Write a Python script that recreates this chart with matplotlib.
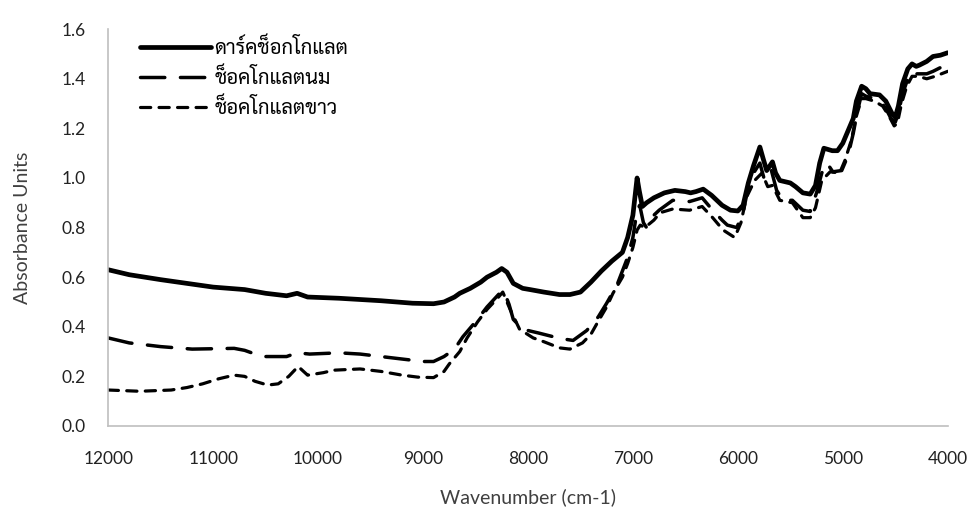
import matplotlib
matplotlib.use("Agg")
import matplotlib.pyplot as plt

# wavenumber (cm-1) / absorbance
wn_dark = [12000, 11800, 11500, 11000, 10700, 10500, 10300, 10200, 10100, 9800,
           9600, 9400, 9100, 8900, 8800, 8700, 8650, 8550, 8450, 8390,
           8300, 8250, 8200, 8140, 8050, 7980, 7850, 7700, 7600, 7500,
           7400, 7300, 7200, 7100, 7050, 7000, 6960, 6940, 6910, 6870,
           6800, 6700, 6600, 6500, 6450, 6400, 6330, 6250, 6150, 6070,
           6000, 5950, 5900, 5850, 5790, 5760, 5725, 5670, 5640, 5600,
           5500, 5450, 5380, 5310, 5260, 5220, 5180, 5100, 5050, 5000,
           4950, 4900, 4870, 4820, 4780, 4740, 4650, 4590, 4530, 4500,
           4470, 4430, 4380, 4340, 4300, 4270, 4200, 4140, 4070, 4000]
abs_dark = [0.63, 0.61, 0.59, 0.56, 0.55, 0.535, 0.525, 0.535, 0.52, 0.515,
            0.51, 0.505, 0.495, 0.493, 0.50, 0.52, 0.535, 0.555, 0.58, 0.60,
            0.62, 0.635, 0.62, 0.575, 0.555, 0.55, 0.54, 0.53, 0.53, 0.54,
            0.58, 0.625, 0.665, 0.70, 0.76, 0.85, 1.0, 0.95, 0.885, 0.90,
            0.92, 0.94, 0.95, 0.945, 0.94, 0.945, 0.955, 0.93, 0.89, 0.87,
            0.867, 0.89, 0.98, 1.05, 1.125, 1.08, 1.03, 1.065, 1.02, 0.99,
            0.98, 0.965, 0.94, 0.935, 0.97, 1.06, 1.12, 1.11, 1.11, 1.14,
            1.19, 1.24, 1.31, 1.37, 1.36, 1.34, 1.335, 1.31, 1.26, 1.245,
            1.29, 1.38, 1.44, 1.46, 1.45, 1.455, 1.47, 1.49, 1.495, 1.505]

wn_milk = [12000, 11800, 11500, 11200, 10800, 10700, 10600, 10500, 10300, 10200,
           10080, 9800, 9600, 9400, 9200, 9000, 8900, 8800, 8700, 8620,
           8500, 8390, 8270, 8230, 8180, 8140, 8050, 7900, 7760, 7650,
           7570, 7440, 7330, 7250, 7150, 7050, 7000, 6960, 6935, 6900,
           6870, 6800, 6750, 6620, 6460, 6340, 6240, 6150, 6100, 6010,
           5950, 5900, 5850, 5790, 5745, 5680, 5630, 5570, 5480, 5380,
           5310, 5250, 5200, 5150, 5095, 5010, 4950, 4900, 4860, 4820,
           4780, 4700, 4640, 4590, 4540, 4500, 4470, 4430, 4380, 4330,
           4300, 4250, 4200, 4140, 4070, 4000]
abs_milk = [0.355, 0.335, 0.32, 0.31, 0.313, 0.305, 0.29, 0.28, 0.28, 0.295,
            0.29, 0.295, 0.29, 0.28, 0.27, 0.26, 0.26, 0.28, 0.31, 0.36,
            0.42, 0.48, 0.535, 0.545, 0.49, 0.43, 0.39, 0.375, 0.36, 0.35,
            0.345, 0.385, 0.44, 0.495, 0.57, 0.68, 0.76, 0.87, 0.89, 0.82,
            0.80, 0.85, 0.87, 0.91, 0.905, 0.92, 0.87, 0.83, 0.81, 0.80,
            0.86, 0.965, 1.02, 1.06, 0.99, 1.03, 0.95, 0.91, 0.91, 0.87,
            0.865, 0.94, 1.02, 1.06, 1.025, 1.03, 1.09, 1.18, 1.27, 1.34,
            1.33, 1.32, 1.31, 1.28, 1.24, 1.225, 1.26, 1.34, 1.40, 1.43,
            1.42, 1.42, 1.42, 1.43, 1.445, 1.455]

wn_white = [12000, 11700, 11400, 11250, 11100, 10950, 10800, 10700, 10600, 10480,
            10380, 10280, 10190, 10100, 9950, 9850, 9600, 9400, 9200, 9050,
            8900, 8800, 8750, 8650, 8580, 8480, 8390, 8290, 8240, 8200,
            8170, 8080, 7950, 7850, 7700, 7600, 7480, 7400, 7340, 7250,
            7190, 7100, 7050, 7000, 6960, 6930, 6886, 6800, 6740, 6620,
            6460, 6340, 6240, 6140, 6030, 5970, 5920, 5840, 5770, 5715,
            5670, 5600, 5480, 5380, 5310, 5260, 5200, 5120, 5030, 4980,
            4920, 4870, 4820, 4780, 4700, 4620, 4560, 4510, 4480, 4440,
            4390, 4340, 4280, 4200, 4120, 4060, 4000]
abs_white = [0.145, 0.14, 0.145, 0.155, 0.17, 0.19, 0.205, 0.20, 0.18, 0.165,
             0.17, 0.20, 0.24, 0.205, 0.215, 0.225, 0.23, 0.22, 0.205, 0.197,
             0.195, 0.22, 0.25, 0.30, 0.355, 0.42, 0.47, 0.515, 0.54, 0.50,
             0.47, 0.39, 0.355, 0.34, 0.315, 0.31, 0.335, 0.37, 0.415, 0.48,
             0.535, 0.60, 0.655, 0.72, 0.79, 0.81, 0.80, 0.83, 0.86, 0.875,
             0.87, 0.885, 0.84, 0.79, 0.76, 0.82, 0.92, 0.99, 1.02, 0.965,
             0.97, 0.91, 0.90, 0.84, 0.84, 0.88, 0.99, 1.025, 1.02, 1.07,
             1.15, 1.25, 1.32, 1.32, 1.31, 1.29, 1.25, 1.21, 1.22, 1.30,
             1.37, 1.41, 1.41, 1.40, 1.41, 1.42, 1.43]

labels = ["ดาร์คช็อกโกแลต", "ช็อคโกแลตนม", "ช็อคโกแลตขาว"]
x_ticks = [12000, 11000, 10000, 9000, 8000, 7000, 6000, 5000, 4000]
y_ticks = [0.0, 0.2, 0.4, 0.6, 0.8, 1.0, 1.2, 1.4, 1.6]

plt.rcParams['font.family'] = ['Lato', 'Sarabun', 'DejaVu Sans']

fig = plt.figure(figsize=(9.75, 5.12), dpi=100)
ax = fig.add_axes([0.111, 0.168, 0.861, 0.775])

ax.plot(wn_dark, abs_dark, color='black', lw=3.4, solid_capstyle='round',
        solid_joinstyle='round', label=labels[0])
ax.plot(wn_milk, abs_milk, color='black', lw=2.5, dashes=(7, 4.5),
        dash_capstyle='round', label=labels[1])
ax.plot(wn_white, abs_white, color='black', lw=2.3, dashes=(3.2, 2.6),
        dash_capstyle='round', label=labels[2])

ax.set_xlim(12000, 4000)
ax.set_ylim(0, 1.6)
ax.set_xticks(x_ticks)
ax.set_yticks(y_ticks)
ax.set_yticklabels([f"{v:.1f}" for v in y_ticks])
ax.tick_params(length=0, labelsize=12.5, colors='#222222')
ax.tick_params(axis='x', pad=18)
ax.tick_params(axis='y', pad=16)

for side in ['top', 'right']:
    ax.spines[side].set_visible(False)
for side in ['left', 'bottom']:
    ax.spines[side].set_color('#BFBFBF')
    ax.spines[side].set_linewidth(1.2)

ax.set_xlabel("Wavenumber (cm-1)", fontsize=14, color='#404040', labelpad=15)
ax.set_ylabel("Absorbance Units", fontsize=14, color='#404040', labelpad=22)

leg = ax.legend(loc='upper left', bbox_to_anchor=(140 / 975, 1 - 37 / 512),
                bbox_transform=fig.transFigure, frameon=False,
                prop={'family': 'Sarabun', 'size': 14.5},
                handlelength=3.55, handletextpad=0.15, labelspacing=0.48,
                borderpad=0, borderaxespad=0)

fig.savefig("out.png", dpi=100)
